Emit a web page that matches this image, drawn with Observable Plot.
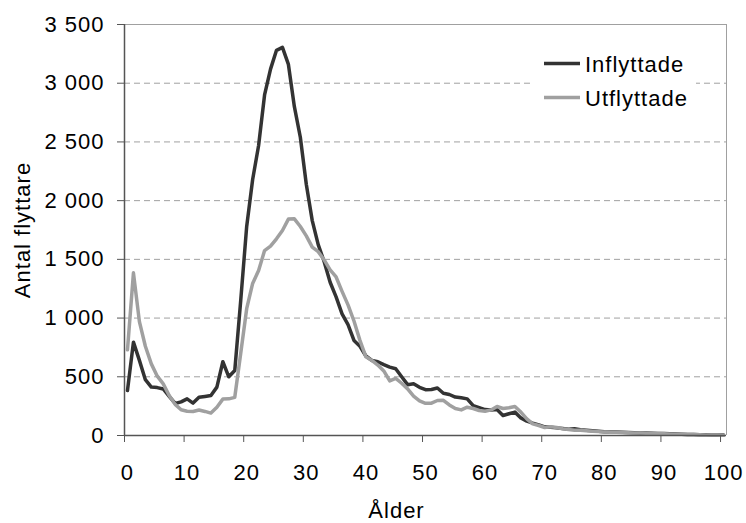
<!DOCTYPE html>
<html><head><meta charset="utf-8">
<script src="https://cdn.jsdelivr.net/npm/d3@7"></script>
<script src="https://cdn.jsdelivr.net/npm/@observablehq/plot@0.6"></script>
<style>
body{margin:0;background:#fff;}
#wrap{position:relative;width:746px;height:523px;font-family:"Liberation Sans",Arial,sans-serif;}
#wrap svg text{letter-spacing:1px;}
#legend{position:absolute;left:530px;top:44px;width:166px;height:76px;background:#fff;}
</style></head><body><div id="wrap"></div>
<script>
// Ages 0..100 (category axis)
const ages = d3.range(0, 101);
const seriesNames = ["Inflyttade", "Utflyttade"];
const seriesColors = ["#333333", "#a0a0a0"];
const inflyttade = [383,795,640,475,412,408,396,333,273,286,
  312,276,326,333,340,412,628,500,553,1150,
  1780,2180,2470,2900,3120,3280,3305,3160,2800,2540,
  2140,1830,1625,1480,1305,1180,1036,945,810,760,
  677,639,628,603,582,568,500,433,440,410,
  390,392,405,360,349,327,321,312,255,238,
  221,218,221,170,185,199,150,122,105,91,
  74,71,65,60,54,57,50,45,40,36,
  32,30,29,28,26,24,22,21,19,17,
  16,14,12,11,9,8,7,6,5,4,4];
const utflyttade = [730,1385,970,760,610,505,440,341,265,219,
  207,204,217,205,191,241,310,312,325,700,
  1080,1295,1405,1575,1612,1675,1746,1843,1845,1780,
  1700,1604,1565,1495,1410,1350,1228,1112,975,810,
  670,639,600,550,465,486,445,397,336,295,
  274,275,298,300,260,230,218,241,230,213,
  207,218,247,230,236,247,199,142,99,85,
  68,74,68,57,51,45,44,40,37,33,
  30,28,27,25,24,22,21,19,18,16,
  15,13,11,10,9,8,6,5,5,4,3];
const yTicks = [0,500,1000,1500,2000,2500,3000,3500];
const yGrid = [500,1000,1500,2000,2500,3000];
const xLabels = [0,10,20,30,40,50,60,70,80,90,100];
const xTickMarks = [-0.5,9.5,19.5,29.5,39.5,49.5,59.5,69.5,79.5,89.5,99.5];
const yTitle = "Antal flyttare";
const xTitle = "Ålder";

const rows = [];
ages.forEach((a, i) => {
  rows.push({age: a, value: inflyttade[i], series: seriesNames[0]});
});
ages.forEach((a, i) => {
  rows.push({age: a, value: utflyttade[i], series: seriesNames[1]});
});

const fmt = d => d3.format(",")(d).replace(",", " ");
const axisColor = "#555555";

const chart = Plot.plot({
  width: 746,
  height: 523,
  marginLeft: 124,
  marginRight: 20,
  marginTop: 24,
  marginBottom: 88,
  style: {fontFamily: '"Liberation Sans", Arial, sans-serif', fontSize: "22px", color: "#000", background: "#fff"},
  x: {domain: [-0.5, 100.5], label: null},
  y: {domain: [0, 3500], label: null},
  color: {domain: seriesNames, range: seriesColors},
  marks: [
    Plot.gridY({ticks: yGrid, stroke: "#a0a0a0", strokeOpacity: 1, strokeDasharray: "6,4"}),
    Plot.ruleY([3500], {stroke: "#a0a0a0", strokeWidth: 1}),
    Plot.ruleX([100.5], {stroke: "#a0a0a0", strokeWidth: 1}),
    Plot.line(rows, {x: "age", y: "value", z: "series", stroke: "series", strokeWidth: 3.5, strokeLinejoin: "round"}),
    Plot.ruleX([-0.5], {stroke: axisColor, strokeWidth: 1.5}),
    Plot.ruleY([0], {stroke: axisColor, strokeWidth: 1.5}),
    Plot.axisY({ticks: yTicks, tickSize: 7, tickPadding: 13, tickFormat: fmt, stroke: axisColor, fill: "#000", label: null}),
    Plot.axisX({ticks: xTickMarks, tickSize: 7, tickFormat: () => "", stroke: axisColor, label: null}),
    Plot.axisX({ticks: xLabels, tickSize: 0, tickPadding: 29, tickFormat: d => String(d), fill: "#000", label: null}),
    Plot.text([yTitle], {text: d => d, frameAnchor: "left", textAnchor: "middle", lineAnchor: "middle", dx: -102, rotate: -90, fill: "#000"}),
    Plot.text([xTitle], {text: d => d, frameAnchor: "bottom", textAnchor: "middle", lineAnchor: "middle", dx: -29, dy: 75, fill: "#000"})
  ]
});

const wrap = document.getElementById("wrap");
wrap.appendChild(chart);

// Legend overlay inside the plot area (top right)
const legend = d3.select(wrap).append("div").attr("id", "legend");
const lsvg = legend.append("svg").attr("width", 166).attr("height", 76);
seriesNames.forEach((name, i) => {
  const cy = i === 0 ? 19.5 : 53.5;
  lsvg.append("line").attr("x1", 14).attr("x2", 50).attr("y1", cy).attr("y2", cy)
    .attr("stroke", seriesColors[i]).attr("stroke-width", 3.5);
  lsvg.append("text").attr("x", 55).attr("y", cy + 8)
    .attr("font-family", '"Liberation Sans", Arial, sans-serif').attr("font-size", 22)
    .style("letter-spacing", "1px").attr("fill", "#000").text(name);
});
</script>
</body></html>
